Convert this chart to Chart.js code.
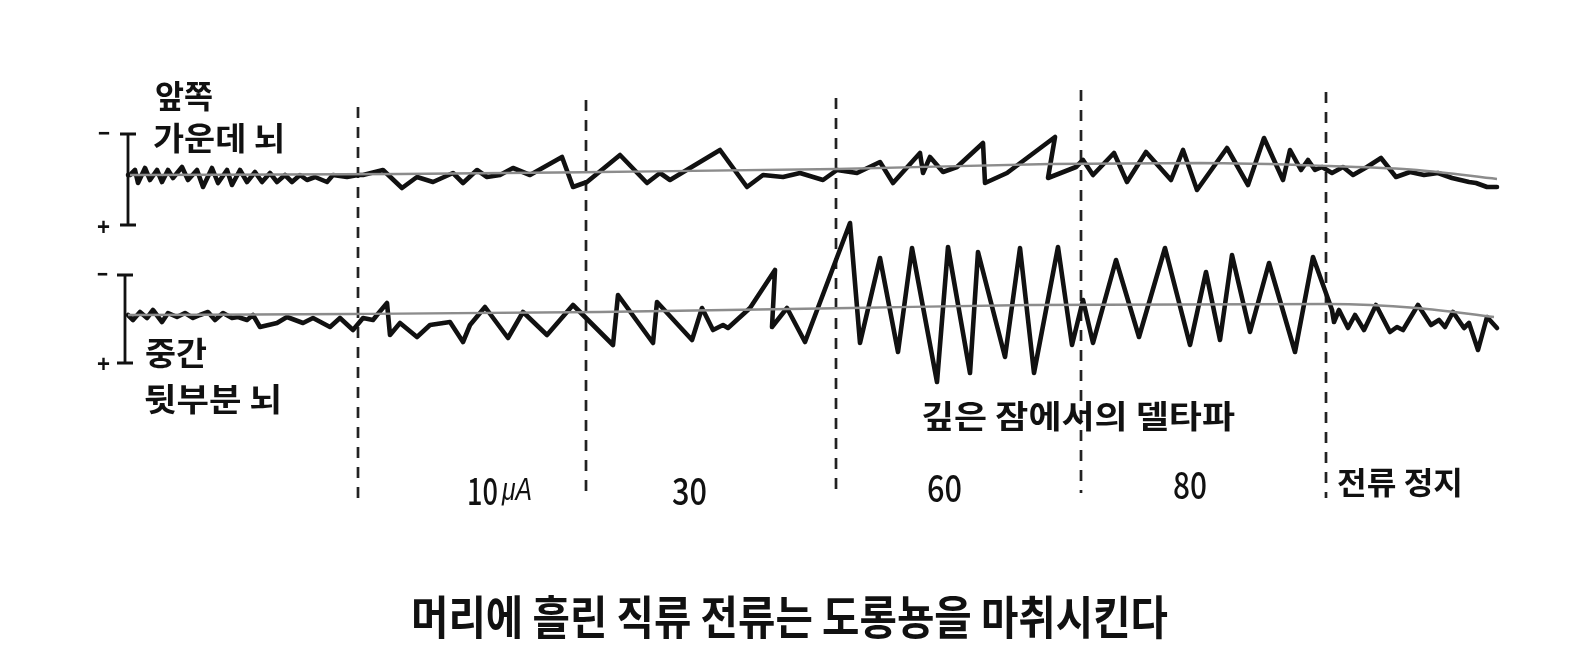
<!DOCTYPE html>
<html>
<head>
<meta charset="utf-8">
<script src="https://cdn.jsdelivr.net/npm/chart.js@4.4.0/dist/chart.umd.min.js"></script>
<style>
  html, body { margin: 0; padding: 0; background: #fff; }
  canvas { display: block; }
</style>
</head>
<body>
<canvas id="eeg" width="1581" height="670"></canvas>
<script>
// recordings: [time, deflection from the channel baseline] (upward = negative potential)
const frontTrace = [
  [128, 0], [130, 0], [135, 5], [138, -8], [145, 7], [150, -5], [157, 5], [162, -7], [168, 5], [173, -3],
  [182, 8], [188, -5], [197, 5], [203, -12], [212, 7], [218, -8], [227, 5], [232, -10], [240, 5], [247, -7],
  [255, 3], [262, -7], [270, 2], [277, -7], [285, 0], [292, -7], [300, 0], [307, -5], [315, -2], [327, -7],
  [333, 0], [347, -2], [358, 0], [363, 0], [383, 5], [402, -13], [417, -2], [433, -7], [453, 2], [463, -8],
  [477, 5], [487, -2], [500, 0], [513, 7], [530, 0], [562, 18], [573, -12], [587, -7], [620, 20], [647, -8],
  [660, 2], [670, -5], [720, 25], [747, -12], [763, 0], [783, -2], [800, 2], [823, -5], [837, 5], [857, 2],
  [880, 13], [893, -8], [920, 22], [923, 2], [930, 18], [943, 3], [957, 8], [983, 32], [985, -8], [1007, 2],
  [1055, 38], [1048, -3], [1076, 8], [1083, 15], [1093, 0], [1114, 22], [1127, -7], [1146, 23], [1171, -5], [1183, 25],
  [1197, -15], [1227, 27], [1248, -10], [1264, 37], [1283, -5], [1290, 25], [1301, 5], [1308, 15], [1315, 5], [1322, 8],
  [1332, 2], [1343, 8], [1353, 0], [1367, 8], [1381, 17], [1396, -2], [1410, 3], [1424, 0], [1438, 2], [1452, -3],
  [1469, -7], [1476, -8], [1487, -12], [1497, -12]
];
const backTrace = [
  [128, 0], [133, -5], [140, 3], [147, -3], [153, 5], [162, -7], [168, 2], [177, -2], [185, 2], [193, -3],
  [200, 0], [208, 3], [215, -5], [223, 2], [232, -3], [238, -2], [247, -5], [253, 0], [260, -12], [277, -8],
  [287, -2], [303, -8], [313, -3], [330, -12], [340, -3], [353, -15], [363, -3], [373, -5], [377, 0], [387, 12],
  [390, -20], [400, -8], [417, -22], [430, -10], [450, -7], [463, -27], [470, -10], [485, 8], [508, -23], [523, 3],
  [547, -20], [573, 10], [613, -30], [618, 20], [653, -28], [657, 13], [692, -25], [702, 7], [713, -15], [723, -10],
  [728, -13], [750, 7], [775, 45], [772, -12], [787, 7], [805, -27], [850, 92], [860, -28], [880, 57], [898, -37],
  [912, 67], [937, -67], [948, 68], [970, -58], [978, 63], [1005, -42], [1020, 67], [1034, -58], [1058, 68], [1072, -30],
  [1083, 15], [1093, -28], [1116, 55], [1139, -22], [1165, 67], [1190, -30], [1206, 43], [1220, -25], [1232, 60], [1250, -17],
  [1269, 52], [1295, -37], [1313, 58], [1332, 5], [1334, -7], [1339, 5], [1348, -13], [1355, 0], [1364, -15], [1376, 10],
  [1390, -17], [1397, -12], [1403, -15], [1418, 10], [1431, -10], [1439, -5], [1445, -12], [1453, 3], [1464, -13], [1469, -8],
  [1478, -35], [1487, -2], [1497, -13]
];
// slow drift of each channel (gray reference curve)
const frontDrift = [[130, 0], [400, 1], [600, 3], [837, 6], [1050, 11], [1200, 12], [1329, 9], [1417, 5], [1497, -4]];
const backDrift = [[128, 0], [350, 1], [600, 3], [850, 7], [1030, 10], [1329, 11], [1417, 7], [1494, -2]];

// times at which the current was changed
const stepTimes = [358, 586, 836, 1081, 1326];
const stepCurrents = ['10', '30', '60', '80'];
const currentUnit = 'μA';
const stopLabel = '전류 정지';
const deltaLabel = '깊은 잠에서의 델타파';
const channelNames = [['앞쪽', '가운데 뇌'], ['중간', '뒷부분 뇌']];
const caption = '머리에 흘린 직류 전류는 도롱뇽을 마취시킨다';

// ---- layout (page units, y downwards) ----
const stepTop = [107, 100, 98, 90, 92];
const stepBottom = [505, 498, 498, 493, 498];
const calX = [128, 125];
const calTop = [134, 275];
const calBottom = [225, 363];

const toXY = (arr) => arr.map((p) => ({ x: p[0], y: p[1] }));

const datasets = [
  { data: toXY(frontDrift), yAxisID: 'yFront', borderColor: '#8c8c8c', borderWidth: 2.4, tension: 0.4, cubicInterpolationMode: 'monotone' },
  { data: toXY(backDrift), yAxisID: 'yBack', borderColor: '#8c8c8c', borderWidth: 2.4, tension: 0.4, cubicInterpolationMode: 'monotone' },
  { data: toXY(frontTrace), yAxisID: 'yFront', borderColor: '#111', borderWidth: 4.6, borderJoinStyle: 'round', borderCapStyle: 'round' },
  { data: toXY(backTrace), yAxisID: 'yBack', borderColor: '#111', borderWidth: 4.6, borderJoinStyle: 'round', borderCapStyle: 'round' },
];

stepTimes.forEach((t, i) => {
  datasets.push({
    data: [{ x: t, y: stepTop[i] }, { x: t, y: stepBottom[i] }],
    yAxisID: 'page',
    borderColor: '#222',
    borderWidth: 2.7,
    borderDash: [11, 9],
  });
});

// calibration brackets
calX.forEach((cx, i) => {
  datasets.push({
    data: [
      { x: cx - 8, y: calTop[i] }, { x: cx + 8, y: calTop[i] }, { x: cx, y: calTop[i] },
      { x: cx, y: calBottom[i] }, { x: cx - 8, y: calBottom[i] }, { x: cx + 8, y: calBottom[i] },
    ],
    yAxisID: 'page',
    borderColor: '#111',
    borderWidth: 2.8,
  });
});

const kr = '"Noto Sans CJK KR", "Noto Sans", sans-serif';
const num = '"Noto Sans CJK KR", "Liberation Sans", sans-serif';
const texts = [
  { text: channelNames[0][0], x: 155, y: 96, w: 58, font: 'bold 32px ' + kr },
  { text: channelNames[0][1], x: 153, y: 138, w: 132, font: 'bold 32px ' + kr },
  { text: channelNames[1][0], x: 145, y: 353, w: 62, font: 'bold 32px ' + kr },
  { text: channelNames[1][1], x: 144, y: 399, w: 138, font: 'bold 32px ' + kr },
  { text: deltaLabel, x: 921, y: 416, w: 314, font: 'bold 32px ' + kr },
  { text: stepCurrents[0], x: 467, y: 491, w: 31, font: '500 37px ' + num },
  { text: currentUnit, x: 502, y: 491, w: 30, font: 'italic 31px "Liberation Sans", Arial, sans-serif' },
  { text: stepCurrents[1], x: 672, y: 491, w: 35, font: '500 37px ' + num },
  { text: stepCurrents[2], x: 927, y: 488, w: 35, font: '500 37px ' + num },
  { text: stepCurrents[3], x: 1173, y: 485, w: 34, font: '500 37px ' + num },
  { text: stopLabel, x: 1337, y: 482, w: 126, font: 'bold 31px ' + kr },
  { text: caption, x: 411, y: 617, w: 757, font: 'bold 46px ' + kr },
  { text: '−', x: 98, y: 134, w: 12, font: 'bold 24px "Liberation Sans", sans-serif' },
  { text: '+', x: 97, y: 228, w: 13, font: 'bold 24px "Liberation Sans", sans-serif' },
  { text: '−', x: 97, y: 275, w: 11, font: 'bold 24px "Liberation Sans", sans-serif' },
  { text: '+', x: 97, y: 365, w: 13, font: 'bold 24px "Liberation Sans", sans-serif' },
];

// draw labels through the chart scales
const textLayer = {
  id: 'textLayer',
  afterDatasetsDraw(chart) {
    const { ctx, scales } = chart;
    texts.forEach((t) => {
      ctx.save();
      ctx.font = t.font;
      ctx.fillStyle = '#111';
      ctx.textBaseline = 'middle';
      const w = ctx.measureText(t.text).width;
      ctx.translate(scales.x.getPixelForValue(t.x), scales.page.getPixelForValue(t.y));
      if (t.w) ctx.scale(t.w / w, 1);
      ctx.fillText(t.text, 0, 0);
      ctx.restore();
    });
  },
};

new Chart(document.getElementById('eeg'), {
  type: 'line',
  data: { datasets: datasets },
  options: {
    responsive: false,
    animation: false,
    events: [],
    layout: { padding: 0 },
    elements: { point: { radius: 0 }, line: { fill: false } },
    scales: {
      x: { type: 'linear', min: 0, max: 1581, display: false },
      yFront: { type: 'linear', min: 175 - 670, max: 175, display: false },
      yBack: { type: 'linear', min: 315 - 670, max: 315, display: false },
      page: { type: 'linear', min: 0, max: 670, reverse: true, display: false },
    },
    plugins: {
      legend: { display: false },
      tooltip: { enabled: false },
    },
  },
  plugins: [textLayer],
});
</script>
</body>
</html>
